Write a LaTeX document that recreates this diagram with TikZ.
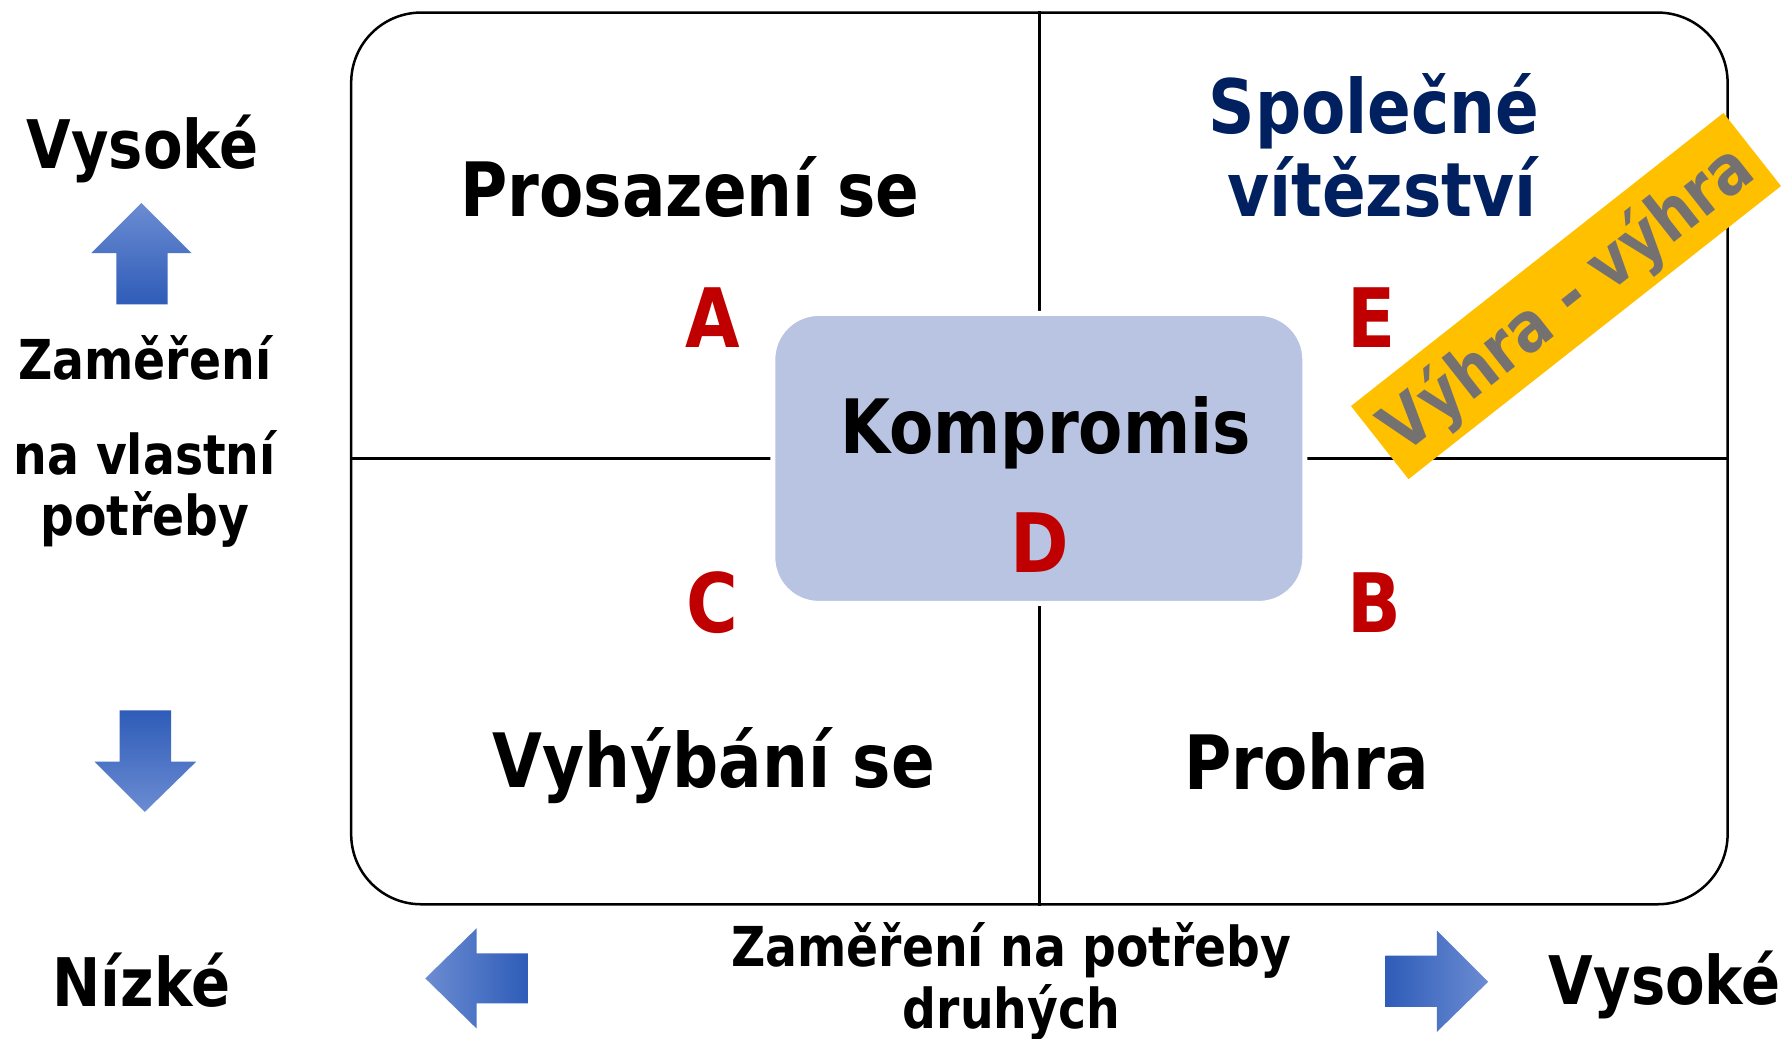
\documentclass[tikz,border=0pt]{standalone}
\usepackage{fontspec}
\setmainfont{DejaVu Sans}[FakeStretch=0.86]
\definecolor{cred}{RGB}{192,0,0}
\definecolor{cnavy}{RGB}{0,32,96}
\definecolor{cbox}{RGB}{184,196,226}
\definecolor{cyel}{RGB}{255,192,0}
\definecolor{cgray}{RGB}{118,113,113}
\definecolor{adark}{RGB}{46,92,184}
\definecolor{alight}{RGB}{108,140,210}
\tikzset{
  frame/.style={draw=black, line width=2.5pt, rounded corners=70pt, inner sep=0pt,
    minimum width=1376.4pt, minimum height=891.7pt},
  quadline/.style={draw=black, line width=2.5pt},
  kbox/.style={fill=cbox, draw=white, line width=5pt, rounded corners=46pt, inner sep=0pt,
    minimum width=532pt, minimum height=290pt},
  lbl/.style={inner sep=0pt, anchor=base, text=black},
  big/.style={lbl, font=\bfseries\fontsize{75}{83}\selectfont},
  navy/.style={big, text=cnavy},
  letter/.style={lbl, text=cred, font=\bfseries\fontsize{82}{90}\selectfont},
  side/.style={lbl, font=\bfseries\fontsize{67}{75}\selectfont},
  axis/.style={lbl, font=\bfseries\fontsize{55}{62}\selectfont},
  banner/.style={fill=cyel, inner sep=0pt, minimum width=474pt, minimum height=93pt},
  bannertext/.style={text=cgray, inner sep=0pt, font=\bfseries\fontsize{69}{75}\selectfont},
}
\begin{document}
\begin{tikzpicture}[x=1.1403pt, y=-1.1403pt]
\useasboundingbox (0,0) rectangle (1568,911);
\fill[white] (0,0) rectangle (1568,911);
% frame and quadrant lines
\node[frame] (frame) at (911.5,402) {};
\draw[quadline] (frame.north) -- (frame.south);
\draw[quadline] (frame.west) -- (frame.east);
% compromise box
\node[kbox] (kbox) at (911,402) {};
\node[big] (kom) at (917,398) {Kompromis};
\node[letter] (D) at (912,502) {D};
% quadrant labels
\node[big] (pro) at (605,190) {Prosazení se};
\node[letter] (A) at (625,305) {A};
\node[navy] (spo1) at (1205,117) {Společné};
\node[navy] (spo2) at (1212,190) {vítězství};
\node[letter] (E) at (1203,305) {E};
\node[letter] (C) at (625,555) {C};
\node[letter] (B) at (1205,555) {B};
\node[big] (vyh) at (626,691) {Vyhýbání se};
\node[big] (proh) at (1146,692) {Prohra};
% banner
\node[banner, rotate=38.2] (banner) at (1373.3,259.6) {};
\node[bannertext, rotate=38.2] (bantxt) at (1375.5,263) {Výhra - výhra};
% left axis
\node[side] (vys1) at (125,148) {Vysoké};
\node[axis] (zam) at (127,333) {Zaměření};
\node[axis] (nav) at (127,416) {na vlastní};
\node[axis] (pot) at (127,470) {potřeby};
\node[side] (niz) at (124,883) {Nízké};
% bottom axis
\node[axis] (zpd) at (887,848) {Zaměření na potřeby};
\node[axis] (dru) at (887,902) {druhých};
\node[side] (vys2) at (1460,881) {Vysoké};
% arrows
\shade[top color=alight, bottom color=adark]
  (124,178) -- (168,222) -- (147,222) -- (147,267) -- (102,267) -- (102,222) -- (80,222) -- cycle;
\shade[top color=adark, bottom color=alight]
  (105,623) -- (150,623) -- (150,668) -- (172,668) -- (127,712) -- (83,668) -- (105,668) -- cycle;
\shade[left color=alight, right color=adark]
  (373,858) -- (418,814) -- (418,836) -- (463,836) -- (463,880) -- (418,880) -- (418,902) -- cycle;
\shade[left color=adark, right color=alight]
  (1215,838) -- (1260,838) -- (1260,816) -- (1305,861) -- (1260,905) -- (1260,883) -- (1215,883) -- cycle;
\end{tikzpicture}
\end{document}
